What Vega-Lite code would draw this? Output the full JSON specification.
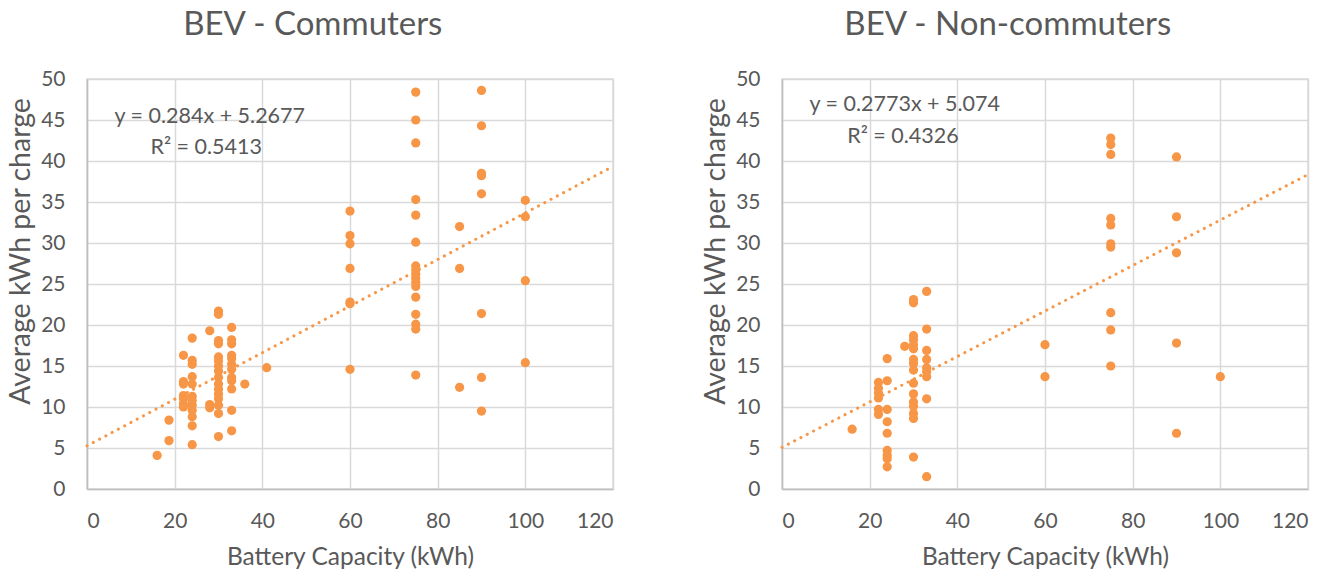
{
  "$schema": "https://vega.github.io/schema/vega-lite/v6.json",
  "background": "white",
  "padding": {"left": 5, "top": 8, "right": 5, "bottom": 0},
  "spacing": 80,
  "datasets": {
    "left": [
      {"cap": 16, "kwh": 4.1},
      {"cap": 18.7, "kwh": 8.4}, {"cap": 18.7, "kwh": 5.9},
      {"cap": 22, "kwh": 16.3}, {"cap": 22, "kwh": 13.1}, {"cap": 22, "kwh": 12.8}, {"cap": 22, "kwh": 11.4}, {"cap": 22, "kwh": 11.0}, {"cap": 22, "kwh": 10.4}, {"cap": 22, "kwh": 10.0},
      {"cap": 24, "kwh": 18.4}, {"cap": 24, "kwh": 15.7}, {"cap": 24, "kwh": 15.2}, {"cap": 24, "kwh": 13.7}, {"cap": 24, "kwh": 12.8}, {"cap": 24, "kwh": 11.3}, {"cap": 24, "kwh": 10.8}, {"cap": 24, "kwh": 10.2}, {"cap": 24, "kwh": 9.6}, {"cap": 24, "kwh": 8.8}, {"cap": 24, "kwh": 7.7}, {"cap": 24, "kwh": 5.4},
      {"cap": 28, "kwh": 19.3}, {"cap": 28, "kwh": 10.3}, {"cap": 28, "kwh": 9.9},
      {"cap": 30, "kwh": 21.7}, {"cap": 30, "kwh": 21.3}, {"cap": 30, "kwh": 18.1}, {"cap": 30, "kwh": 17.7}, {"cap": 30, "kwh": 16.1}, {"cap": 30, "kwh": 15.6}, {"cap": 30, "kwh": 15.0}, {"cap": 30, "kwh": 14.4}, {"cap": 30, "kwh": 13.6}, {"cap": 30, "kwh": 12.8}, {"cap": 30, "kwh": 12.2}, {"cap": 30, "kwh": 11.6}, {"cap": 30, "kwh": 11.0}, {"cap": 30, "kwh": 10.2}, {"cap": 30, "kwh": 9.2}, {"cap": 30, "kwh": 6.4},
      {"cap": 33, "kwh": 19.7}, {"cap": 33, "kwh": 18.2}, {"cap": 33, "kwh": 17.7}, {"cap": 33, "kwh": 16.3}, {"cap": 33, "kwh": 15.9}, {"cap": 33, "kwh": 15.2}, {"cap": 33, "kwh": 14.6}, {"cap": 33, "kwh": 13.6}, {"cap": 33, "kwh": 13.2}, {"cap": 33, "kwh": 12.2}, {"cap": 33, "kwh": 9.6}, {"cap": 33, "kwh": 7.1},
      {"cap": 36, "kwh": 12.8},
      {"cap": 41, "kwh": 14.8},
      {"cap": 60, "kwh": 33.9}, {"cap": 60, "kwh": 30.9}, {"cap": 60, "kwh": 29.9}, {"cap": 60, "kwh": 26.9}, {"cap": 60, "kwh": 22.8}, {"cap": 60, "kwh": 22.6}, {"cap": 60, "kwh": 14.6},
      {"cap": 75, "kwh": 48.4}, {"cap": 75, "kwh": 45.0}, {"cap": 75, "kwh": 42.2}, {"cap": 75, "kwh": 35.3}, {"cap": 75, "kwh": 33.4}, {"cap": 75, "kwh": 30.1}, {"cap": 75, "kwh": 27.2}, {"cap": 75, "kwh": 26.7}, {"cap": 75, "kwh": 26.2}, {"cap": 75, "kwh": 25.7}, {"cap": 75, "kwh": 25.2}, {"cap": 75, "kwh": 24.7}, {"cap": 75, "kwh": 23.4}, {"cap": 75, "kwh": 21.3}, {"cap": 75, "kwh": 20.1}, {"cap": 75, "kwh": 19.5}, {"cap": 75, "kwh": 13.9},
      {"cap": 85, "kwh": 32.0}, {"cap": 85, "kwh": 26.9}, {"cap": 85, "kwh": 12.4},
      {"cap": 90, "kwh": 48.6}, {"cap": 90, "kwh": 44.3}, {"cap": 90, "kwh": 38.5}, {"cap": 90, "kwh": 38.2}, {"cap": 90, "kwh": 36.0}, {"cap": 90, "kwh": 21.4}, {"cap": 90, "kwh": 13.6}, {"cap": 90, "kwh": 9.5},
      {"cap": 100, "kwh": 35.2}, {"cap": 100, "kwh": 33.2}, {"cap": 100, "kwh": 25.4}, {"cap": 100, "kwh": 15.4}
    ],
    "right": [
      {"cap": 16, "kwh": 7.3},
      {"cap": 22, "kwh": 13.0}, {"cap": 22, "kwh": 12.3}, {"cap": 22, "kwh": 11.7}, {"cap": 22, "kwh": 11.1}, {"cap": 22, "kwh": 9.7}, {"cap": 22, "kwh": 9.1},
      {"cap": 24, "kwh": 15.9}, {"cap": 24, "kwh": 13.2}, {"cap": 24, "kwh": 9.7}, {"cap": 24, "kwh": 8.2}, {"cap": 24, "kwh": 6.8}, {"cap": 24, "kwh": 4.7}, {"cap": 24, "kwh": 4.1}, {"cap": 24, "kwh": 3.7}, {"cap": 24, "kwh": 2.7},
      {"cap": 28, "kwh": 17.4},
      {"cap": 30, "kwh": 23.1}, {"cap": 30, "kwh": 22.7}, {"cap": 30, "kwh": 18.7}, {"cap": 30, "kwh": 18.2}, {"cap": 30, "kwh": 17.6}, {"cap": 30, "kwh": 17.1}, {"cap": 30, "kwh": 15.8}, {"cap": 30, "kwh": 15.3}, {"cap": 30, "kwh": 14.5}, {"cap": 30, "kwh": 12.9}, {"cap": 30, "kwh": 11.6}, {"cap": 30, "kwh": 10.6}, {"cap": 30, "kwh": 10.1}, {"cap": 30, "kwh": 9.2}, {"cap": 30, "kwh": 8.6}, {"cap": 30, "kwh": 3.9},
      {"cap": 33, "kwh": 24.1}, {"cap": 33, "kwh": 19.5}, {"cap": 33, "kwh": 16.9}, {"cap": 33, "kwh": 15.8}, {"cap": 33, "kwh": 14.8}, {"cap": 33, "kwh": 14.3}, {"cap": 33, "kwh": 13.7}, {"cap": 33, "kwh": 11.0}, {"cap": 33, "kwh": 1.5},
      {"cap": 60, "kwh": 17.6}, {"cap": 60, "kwh": 13.7},
      {"cap": 75, "kwh": 42.8}, {"cap": 75, "kwh": 42.0}, {"cap": 75, "kwh": 40.8}, {"cap": 75, "kwh": 33.0}, {"cap": 75, "kwh": 32.2}, {"cap": 75, "kwh": 29.9}, {"cap": 75, "kwh": 29.5}, {"cap": 75, "kwh": 21.5}, {"cap": 75, "kwh": 19.4}, {"cap": 75, "kwh": 15.0},
      {"cap": 90, "kwh": 40.5}, {"cap": 90, "kwh": 33.2}, {"cap": 90, "kwh": 28.8}, {"cap": 90, "kwh": 17.8}, {"cap": 90, "kwh": 6.8},
      {"cap": 100, "kwh": 13.7}
    ],
    "leftTrend": [{"cap": 0, "kwh": 5.2677}, {"cap": 120, "kwh": 39.3477}],
    "rightTrend": [{"cap": 0, "kwh": 5.074}, {"cap": 120, "kwh": 38.35}],
    "leftLabel": [{"cap": 28, "kwh": 45.4, "txt": "y = 0.284x + 5.2677"}, {"cap": 27.2, "kwh": 41.6, "txt": "R² = 0.5413"}],
    "rightLabel": [{"cap": 28, "kwh": 46.8, "txt": "y = 0.2773x + 5.074"}, {"cap": 27.6, "kwh": 42.9, "txt": "R² = 0.4326"}]
  },
  "config": {
    "font": "Lato",
    "view": {"stroke": "#d9d9d9", "strokeWidth": 1.5},
    "axis": {
      "labelFont": "Lato", "labelFontSize": 21, "labelColor": "#595959",
      "titleFont": "Lato", "titleFontSize": 21, "titleColor": "#595959", "titleFontWeight": "normal",
      "gridColor": "#d9d9d9", "gridWidth": 1.5, "domainColor": "#bfbfbf", "domainWidth": 1.5,
      "ticks": false
    },
    "axisX": {"labelPadding": 21, "titlePadding": 14, "titleFontSize": 24.5},
    "axisY": {"labelPadding": 22, "titlePadding": 5, "titleFontSize": 28.5, "titleY": 172},
    "title": {"font": "Lato", "fontSize": 33, "fontWeight": "normal", "color": "#595959", "offset": 26, "frame": "bounds"}
  },
  "hconcat": [
    {
      "width": 526, "height": 410,
      "title": "BEV - Commuters",
      "layer": [
        {
          "data": {"name": "left"},
          "mark": {"type": "point", "filled": true, "shape": "circle", "size": 85, "color": "#F79646", "opacity": 1},
          "encoding": {
            "x": {"field": "cap", "type": "quantitative", "scale": {"domain": [0, 120], "nice": false}, "axis": {"values": [0, 20, 40, 60, 80, 100, 120], "title": "Battery Capacity (kWh)"}},
            "y": {"field": "kwh", "type": "quantitative", "scale": {"domain": [0, 50], "nice": false}, "axis": {"values": [0, 5, 10, 15, 20, 25, 30, 35, 40, 45, 50], "title": "Average kWh per charge"}}
          }
        },
        {
          "data": {"name": "leftTrend"},
          "mark": {"type": "line", "color": "#F79646", "strokeWidth": 3, "strokeDash": [0.1, 7], "strokeCap": "round"},
          "encoding": {"x": {"field": "cap", "type": "quantitative"}, "y": {"field": "kwh", "type": "quantitative"}}
        },
        {
          "data": {"name": "leftLabel"},
          "mark": {"type": "text", "fontSize": 21.5, "color": "#595959", "align": "center", "baseline": "middle"},
          "encoding": {"x": {"field": "cap", "type": "quantitative"}, "y": {"field": "kwh", "type": "quantitative"}, "text": {"field": "txt"}}
        }
      ]
    },
    {
      "width": 526, "height": 410,
      "title": "BEV - Non-commuters",
      "layer": [
        {
          "data": {"name": "right"},
          "mark": {"type": "point", "filled": true, "shape": "circle", "size": 85, "color": "#F79646", "opacity": 1},
          "encoding": {
            "x": {"field": "cap", "type": "quantitative", "scale": {"domain": [0, 120], "nice": false}, "axis": {"values": [0, 20, 40, 60, 80, 100, 120], "title": "Battery Capacity (kWh)"}},
            "y": {"field": "kwh", "type": "quantitative", "scale": {"domain": [0, 50], "nice": false}, "axis": {"values": [0, 5, 10, 15, 20, 25, 30, 35, 40, 45, 50], "title": "Average kWh per charge"}}
          }
        },
        {
          "data": {"name": "rightTrend"},
          "mark": {"type": "line", "color": "#F79646", "strokeWidth": 3, "strokeDash": [0.1, 7], "strokeCap": "round"},
          "encoding": {"x": {"field": "cap", "type": "quantitative"}, "y": {"field": "kwh", "type": "quantitative"}}
        },
        {
          "data": {"name": "rightLabel"},
          "mark": {"type": "text", "fontSize": 21.5, "color": "#595959", "align": "center", "baseline": "middle"},
          "encoding": {"x": {"field": "cap", "type": "quantitative"}, "y": {"field": "kwh", "type": "quantitative"}, "text": {"field": "txt"}}
        }
      ]
    }
  ]
}
